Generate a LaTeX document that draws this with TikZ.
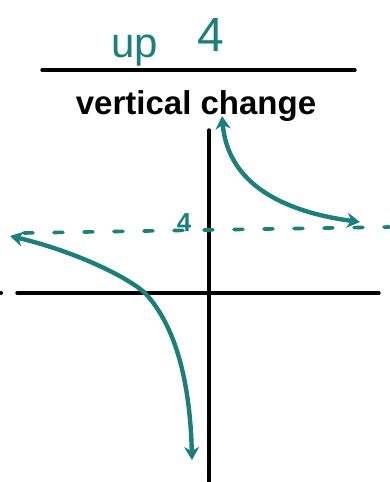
\documentclass[tikz,border=0pt]{standalone}
\usepackage{fontspec}
\setmainfont{Liberation Sans}
\usetikzlibrary{arrows.meta}
\definecolor{tealpen}{RGB}{28,128,122}
\begin{document}
\begin{tikzpicture}[x=1pt,y=-1pt,
  axisline/.style={line width=3.4pt,black,line cap=round},
  curve/.style={line width=4.4pt,tealpen,line cap=round,{Stealth[length=13pt,width=15pt,inset=4pt]}-{Stealth[length=13pt,width=15pt,inset=4pt]}},
  asym/.style={line width=3.6pt,tealpen,line cap=round,dash pattern=on 9pt off 21pt},
  hand/.style={inner sep=0pt,anchor=base}]
\useasboundingbox (0,0) rectangle (389,482);
% fraction
\node[hand,text=tealpen,font=\fontsize{42}{42}\selectfont] (up) at (135,57) {up};
\node[hand,text=tealpen,font=\fontsize{48}{48}\selectfont] (four) at (211,51) {4};
\coordinate (fl) at (42,70);
\coordinate (fr) at (355,70);
\draw[line width=3.4pt,line cap=round] (fl) -- (fr);
\node[hand,font=\bfseries\fontsize{33}{33}\selectfont] (vc) at (196,114) {vertical change};
% axes
\coordinate (yt) at (209,130);
\coordinate (yb) at (209,482);
\coordinate (xl) at (17,293);
\coordinate (xr) at (379,293);
\draw[axisline] (yt) -- (yb);
\draw[axisline] (xl) -- (xr);
\fill (1,293) circle (2pt);
% asymptote
\coordinate (al) at (24,233);
\coordinate (ar) at (389,227);
\draw[asym] (al) -- (ar);
\node[hand,text=tealpen,font=\bfseries\fontsize{26}{26}\selectfont] (lab4) at (184,231) {4};
% branches
\coordinate (T) at (222,116);
\coordinate (R) at (360,222);
\draw[curve] (T) .. controls (228,185) and (285,212) .. (R);
\coordinate (L) at (10,236);
\coordinate (X) at (145,293);
\coordinate (B) at (192,460);
\draw[curve] (L) .. controls (70,250) and (125,275) .. (X) .. controls (175,325) and (190,380) .. (B);
\end{tikzpicture}
\end{document}
